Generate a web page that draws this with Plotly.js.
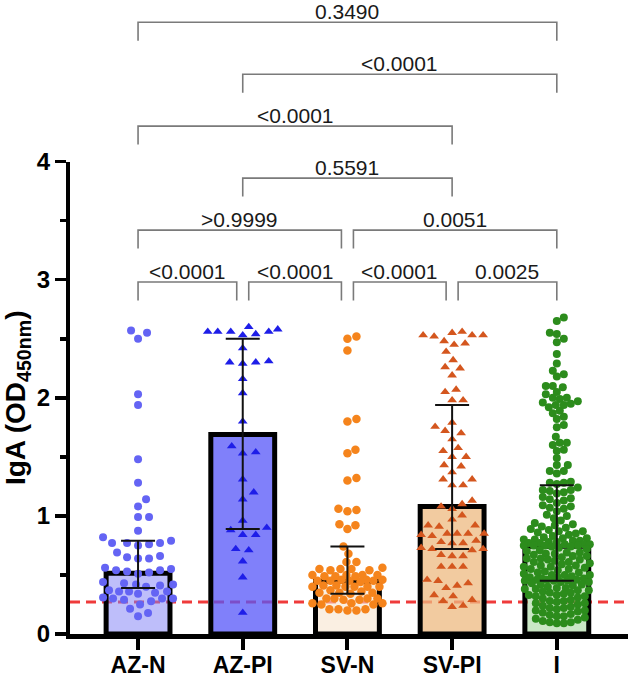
<!DOCTYPE html>
<html>
<head>
<meta charset="utf-8">
<script src="https://cdn.plot.ly/plotly-3.0.1.min.js"></script>
<style>html,body{margin:0;padding:0;background:#fff;}#chart{width:633px;height:678px;}</style>
</head>
<body>
<div id="chart"></div>
<script>
// ---------- data ----------
const categories = ['AZ-N', 'AZ-PI', 'SV-N', 'SV-PI', 'I'];
const medians = [0.515, 1.69, 0.446, 1.08, 0.743];
const q1 = [0.39, 0.89, 0.34, 0.72, 0.45];
const q3 = [0.79, 2.50, 0.74, 1.94, 1.26];
const cutoff = 0.27;

const azN = [2.57, 2.50, 2.55, 2.03, 1.94, 1.48, 1.28, 1.14, 1.08, 0.99, 0.99, 0.875, 0.82, 0.79,
  0.77, 0.77, 0.76, 0.77, 0.75, 0.66, 0.64, 0.69, 0.65, 0.64,
  0.55, 0.52, 0.53, 0.54, 0.54, 0.56, 0.51, 0.42, 0.43, 0.44, 0.42, 0.41, 0.40,
  0.36, 0.36, 0.37, 0.35, 0.34, 0.36, 0.30, 0.29, 0.30, 0.31, 0.30,
  0.277, 0.25, 0.214, 0.178, 0.15];
const azPI = [2.56, 2.56, 2.60, 2.54, 2.58, 2.53, 2.56, 2.56, 2.42, 2.30, 2.30, 2.31, 2.29,
  2.16, 2.04, 1.80, 1.59, 1.53, 1.54, 1.31, 1.20, 1.14, 0.96, 0.90, 0.88, 0.84, 0.84,
  0.72, 0.71, 0.615, 0.48, 0.18];
const svN = [2.52, 2.50, 2.40, 1.82, 1.80, 1.56, 1.53, 1.32, 1.30, 1.05, 1.04, 1.06, 0.92, 0.89, 0.93, 0.74,
  0.68, 0.61, 0.61,
  0.55, 0.56, 0.54, 0.55, 0.55, 0.54,
  0.50, 0.50, 0.49, 0.50, 0.49, 0.49, 0.50,
  0.45, 0.45, 0.45, 0.46, 0.45, 0.46, 0.46, 0.44,
  0.40, 0.41, 0.40, 0.41, 0.40, 0.40, 0.40,
  0.35, 0.35, 0.35, 0.34, 0.36, 0.37,
  0.30, 0.29, 0.30, 0.30, 0.29, 0.30,
  0.25, 0.25, 0.26, 0.26, 0.26,
  0.21, 0.21, 0.20, 0.21, 0.20];
const svPI = [2.55, 2.53, 2.53, 2.52, 2.53, 2.56, 2.48, 2.46, 2.45, 2.39, 2.32, 2.25, 2.26, 2.19,
  2.07, 2.05, 1.98, 1.98, 1.755, 1.79, 1.72, 1.70, 1.65, 1.55, 1.575, 1.50, 1.50, 1.43, 1.42,
  1.37, 1.31, 1.31, 1.26, 1.26, 1.13, 1.10, 1.08, 1.06, 1.005, 0.97, 0.92, 0.92, 0.91,
  0.85, 0.85, 0.85, 0.84, 0.85, 0.83, 0.77, 0.77, 0.78, 0.79, 0.72, 0.72, 0.73, 0.71,
  0.66, 0.67, 0.66, 0.57, 0.57, 0.57, 0.43, 0.45, 0.41, 0.39, 0.46,
  0.33, 0.32, 0.28, 0.29, 0.24, 0.23];
const infected = [2.68, 2.65, 2.55, 2.54, 2.50, 2.47, 2.37, 2.29, 2.23, 2.20, 2.18,
  2.10, 2.09, 2.10, 2.05, 2.03, 2.00, 1.99, 2.00, 1.96, 1.94, 1.97, 1.95, 1.92, 1.94, 1.87, 1.89,
  1.84, 1.82, 1.77, 1.75, 1.67, 1.62, 1.62, 1.60, 1.56, 1.55, 1.49, 1.43, 1.43, 1.38, 1.36, 1.38,
  1.29, 1.28, 1.27, 1.28, 1.24, 1.22, 1.21, 1.22, 1.19, 1.20, 1.16, 1.14, 1.15, 1.13, 1.11,
  1.08, 1.07, 1.06, 1.09, 1.04, 1.01, 1.00, 0.98, 0.96, 0.94, 0.93, 0.92, 0.91, 0.90, 0.89,
  0.87, 0.88, 0.86, 0.87, 0.85, 0.84, 0.83, 0.82, 0.81, 0.80, 0.80, 0.79, 0.81, 0.78, 0.78,
  0.77, 0.77, 0.76, 0.79, 0.76, 0.75, 0.75, 0.76, 0.75, 0.74, 0.75, 0.74,
  0.73, 0.72, 0.71, 0.70, 0.69, 0.69, 0.68, 0.68, 0.67, 0.66, 0.66, 0.65, 0.64, 0.64, 0.63,
  0.63, 0.62, 0.61, 0.61, 0.60, 0.59, 0.58, 0.58, 0.57, 0.57, 0.56, 0.55, 0.55, 0.54, 0.53,
  0.52, 0.52, 0.51, 0.50, 0.50, 0.50, 0.49, 0.48, 0.48, 0.47, 0.47, 0.46, 0.46, 0.45, 0.45,
  0.46, 0.44, 0.45,
  0.44, 0.43, 0.42, 0.42, 0.41, 0.40, 0.39, 0.39, 0.38, 0.38, 0.37, 0.37, 0.36, 0.35, 0.35,
  0.34, 0.33, 0.33, 0.32, 0.32, 0.31, 0.30, 0.29, 0.28, 0.28, 0.27, 0.26, 0.26, 0.25, 0.24,
  0.23, 0.22, 0.22, 0.21, 0.20, 0.20, 0.19, 0.18, 0.17, 0.16, 0.15, 0.15, 0.14, 0.13, 0.12,
  0.11, 0.10, 0.09, 0.09, 0.10];
const groupValues = [azN, azPI, svN, svPI, infected];

// significance brackets
const compFrom = [0, 1, 2, 3, 0, 2, 1, 0, 1, 0];
const compTo   = [1, 2, 3, 4, 2, 4, 3, 3, 4, 4];
const pLabels  = ['<0.0001', '<0.0001', '<0.0001', '0.0025', '>0.9999', '0.0051', '0.5591', '<0.0001', '<0.0001', '0.3490'];
const compLevel = [0, 0, 0, 0, 1, 1, 2, 3, 4, 5];

// ---------- styles ----------
const barFills = ['rgba(125,125,245,0.5)', 'rgba(86,86,248,0.75)', 'rgba(246,226,202,0.55)', 'rgba(238,186,128,0.75)', 'rgba(150,208,140,0.5)'];
const pointColors = ['#6464f4', '#1e1ee8', '#f5841c', '#d4561e', '#2c8c1c'];
const pointSymbols = ['circle', 'triangle-up', 'circle', 'triangle-up', 'circle'];
const pointSizes = [8, 8.5, 8.5, 8.5, 8];
const swarmDist = [10.5, 12.5, 8.5, 10.5, 7];
const swarmHalf = [35, 35, 35, 35, 33];

const W = 633, H = 678;
const M = {l: 70, r: 5, t: 16, b: 44};
const xRange = [-0.65, 4.68];
const pxPerY = 118.1;
const plotW = W - M.l - M.r, plotH = H - M.t - M.b;
const pxPerX = plotW / (xRange[1] - xRange[0]);
const paperUnits = plotH / pxPerY;           // data units spanned by full plot height
const yDomainTop = 4 / paperUnits;
const FONT = 'Liberation Sans, Arial, Helvetica, sans-serif';

// ---------- beeswarm offsets (in px) ----------
function swarm(vals, dmin, maxHalf) {
  const order = vals.map((v, i) => i).sort((a, b) => vals[a] - vals[b]);
  const placed = [];
  const out = new Array(vals.length);
  for (const i of order) {
    const y = vals[i] * pxPerY;
    let best = 0, bestScore = -1;
    for (let k = 0; k <= 2 * maxHalf; k++) {
      const cx = (k % 2 === 1 ? 1 : -1) * Math.ceil(k / 2);
      let minD = Infinity;
      for (const p of placed) {
        if (Math.abs(p.y - y) < dmin) {
          const d = Math.hypot(p.x - cx, p.y - y);
          if (d < minD) minD = d;
        }
      }
      if (minD >= dmin) { best = cx; bestScore = Infinity; break; }
      if (minD > bestScore) { bestScore = minD; best = cx; }
    }
    placed.push({x: best, y: y});
    out[i] = best;
  }
  return out;
}

const idx = categories.map((c, i) => i);
const traces = [];
traces.push({
  type: 'bar', x: idx, y: medians, width: 0.61,
  marker: {color: barFills, line: {color: '#000', width: 5}},
  hoverinfo: 'skip', showlegend: false
});
groupValues.forEach((vals, g) => {
  const off = swarm(vals, swarmDist[g], swarmHalf[g]);
  traces.push({
    type: 'scatter', mode: 'markers',
    x: vals.map((v, i) => g + off[i] / pxPerX), y: vals,
    marker: {symbol: pointSymbols[g], size: pointSizes[g], color: pointColors[g], line: {width: 0}},
    showlegend: false, cliponaxis: false
  });
});
traces.push({
  type: 'scatter', mode: 'markers', x: idx, y: medians,
  marker: {size: 1, color: 'rgba(0,0,0,0)'},
  error_y: {type: 'data', symmetric: false,
    array: medians.map((m, i) => q3[i] - m),
    arrayminus: medians.map((m, i) => m - q1[i]),
    color: '#111', thickness: 2, width: 17},
  showlegend: false, hoverinfo: 'skip'
});

// ---------- brackets ----------
const shapes = [{
  type: 'line', xref: 'paper', x0: 0, x1: 1, yref: 'y', y0: cutoff, y1: cutoff,
  line: {color: '#ef3b3b', width: 3, dash: '10px,6px'}, layer: 'below'
}];
const annotations = [];
const levelBase = 2.98, levelStep = 0.44, drop = 0.156, inset = 6 / pxPerX;
for (let k = 0; k < compFrom.length; k++) {
  const a = compFrom[k], b = compTo[k], lv = compLevel[k];
  const shares = g => compFrom.some((f, j) => j !== k && compLevel[j] === lv && (f === g || compTo[j] === g));
  const x0 = a + (shares(a) ? inset : 0);
  const x1 = b - (shares(b) ? inset : 0);
  const yv = levelBase + levelStep * lv;
  const yt = yv / paperUnits, yb = (yv - drop) / paperUnits;
  shapes.push({
    type: 'path', xref: 'x', yref: 'paper',
    path: `M ${x0},${yb} L ${x0},${yt} L ${x1},${yt} L ${x1},${yb}`,
    line: {color: '#7a7a7a', width: 1.6}
  });
  annotations.push({
    xref: 'x', yref: 'paper', x: (x0 + x1) / 2, y: yt, yanchor: 'middle', yshift: 10.5,
    text: pLabels[k], showarrow: false, borderpad: 0,
    font: {family: FONT, size: 21, color: '#1a1a1a'}
  });
}

const layout = {
  width: W, height: H, margin: M,
  paper_bgcolor: '#fff', plot_bgcolor: '#fff',
  showlegend: false,
  xaxis: {
    range: xRange, tickvals: idx, ticktext: categories,
    showgrid: false, zeroline: false, showline: true, linecolor: '#000', linewidth: 5,
    ticks: 'outside', ticklen: 11, tickwidth: 4, tickcolor: '#000', ticklabelstandoff: -5,
    tickfont: {family: FONT, size: 23, color: '#000', weight: 'bold'}
  },
  yaxis: {
    domain: [0, yDomainTop], range: [0, 4],
    tickvals: [0, 1, 2, 3, 4],
    showgrid: false, zeroline: false, showline: true, linecolor: '#000', linewidth: 4,
    ticks: 'outside', ticklen: 11, tickwidth: 3.5, tickcolor: '#000',
    minor: {dtick: 0.5, tick0: 0, ticks: 'outside', ticklen: 6, tickwidth: 3.5, tickcolor: '#000', showgrid: false},
    tickfont: {family: FONT, size: 24, color: '#000', weight: 'bold'},
    title: {text: 'IgA (OD<sub>450nm</sub>)', standoff: 6,
      font: {family: FONT, size: 28, color: '#000', weight: 'bold'}}
  },
  shapes: shapes,
  annotations: annotations
};

Plotly.newPlot('chart', traces, layout, {staticPlot: true, displayModeBar: false});
</script>
</body>
</html>
